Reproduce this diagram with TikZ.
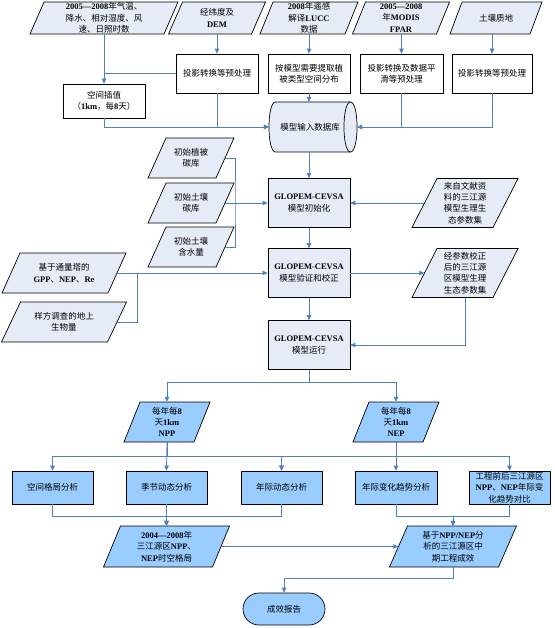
\documentclass[tikz,border=0pt]{standalone}
\usepackage{fontspec}
\setmainfont{Liberation Serif}
\newfontfamily\cjk{Noto Sans CJK SC}
\usetikzlibrary{arrows.meta,shapes.geometric,calc}
\newcommand\zh[1]{{\cjk\mdseries #1}}
\definecolor{lightfill}{HTML}{E6ECF7}
\definecolor{darkfill}{HTML}{99CCFF}
\definecolor{linkblue}{HTML}{4F81BD}
% #1 name, #2 cx, #3 cy, #4 width at mid height, #5 height, #6 slant shift, #7 style, #8 text
\newcommand\para[8]{%
  \filldraw[#7] ({#2-#4/2+#6/2},{#3-#5/2}) -- ({#2+#4/2+#6/2},{#3-#5/2})
     -- ({#2+#4/2-#6/2},{#3+#5/2}) -- ({#2-#4/2-#6/2},{#3+#5/2}) -- cycle;
  \node[txt,minimum width=#4pt,minimum height=#5pt] (#1) at (#2,#3) {#8};}
\tikzset{
  txt/.style={align=center,inner sep=0pt,font=\fontsize{8.5}{11.3}\selectfont\bfseries},
  lp/.style={draw=black,line width=0.7pt,fill=lightfill},
  dp/.style={draw=black,line width=0.7pt,fill=darkfill},
  lbox/.style={txt,draw=black,line width=0.7pt,fill=white},
  wbox/.style={txt,draw=black,line width=0.7pt,fill=lightfill},
  dbox/.style={txt,draw=black,line width=0.7pt,fill=darkfill},
  link/.style={draw=linkblue,line width=0.8pt},
  arr/.style={link,-{Triangle[length=5pt,width=4.5pt]}}
}
\begin{document}
\begin{tikzpicture}[x=1pt,y=-1pt]
\useasboundingbox[fill=white] (0,0) rectangle (554,628);
% top row inputs
\para{P1}{104}{18}{134}{32}{14}{lp}{2005—2008\zh{年气温、}\\\zh{降水、相对湿度、风}\\\zh{速、日照时数}}
\para{P2}{217}{18}{83}{32}{14}{lp}{\zh{经纬度及}\\DEM}
\para{P3}{309}{18}{85}{32}{13}{lp}{2008\zh{年遥感}\\\zh{解译}LUCC\\\zh{数据}}
\para{P4}{401}{18}{84}{32}{13}{lp}{2005—2008\\\zh{年}MODIS\\FPAR}
\para{P5}{496}{18}{80}{32}{12}{lp}{\zh{土壤质地}}
% preprocessing
\node[lbox,minimum width=82pt,minimum height=39pt] (B2) at (217,73.5) {\zh{投影转换等预处理}};
\node[lbox,minimum width=82pt,minimum height=39pt] (B3) at (309,73.5) {\zh{按模型需要提取植}\\\zh{被类型空间分布}};
\node[lbox,minimum width=83pt,minimum height=39pt] (B4) at (401.5,73.5) {\zh{投影转换及数据平}\\\zh{滑等预处理}};
\node[lbox,minimum width=80pt,minimum height=39pt] (B5) at (492,73.5) {\zh{投影转换等预处理}};
\node[lbox,minimum width=82pt,minimum height=34pt] (IP) at (104,101) {\zh{空间插值}\\\zh{（}1km\zh{，每}8\zh{天）}};
% database cylinder (horizontal axis)
\filldraw[lp] (275.5,102) -- (350.5,102) .. controls (359.2,102) and (359.2,152) .. (350.5,152)
   -- (275.5,152) .. controls (266.8,152) and (266.8,102) .. (275.5,102) -- cycle;
\draw[black,line width=0.7pt] (350.5,102) .. controls (341.8,102) and (341.8,152) .. (350.5,152);
\node[txt,minimum width=88pt,minimum height=50pt] (CY) at (313,127) {\zh{模型输入数据库}\hspace*{6pt}};
% model column
\node[wbox,minimum width=82pt,minimum height=49pt] (INI) at (309,203) {GLOPEM-CEVSA\\\zh{模型初始化}};
\node[wbox,minimum width=82pt,minimum height=49pt] (VER) at (309,273) {GLOPEM-CEVSA\\\zh{模型验证和校正}};
\node[wbox,minimum width=82pt,minimum height=49pt] (RUN) at (309,345) {GLOPEM-CEVSA\\\zh{模型运行}};
% left inputs
\para{L1}{191}{158}{68}{40}{18}{lp}{\zh{初始植被}\\\zh{碳库}}
\para{L2}{191}{203}{68}{40}{18}{lp}{\zh{初始土壤}\\\zh{碳库}}
\para{L3}{191}{247}{68}{40}{18}{lp}{\zh{初始土壤}\\\zh{含水量}}
\para{GP}{64}{273}{106}{40}{18}{lp}{\zh{基于通量塔的}\\GPP\zh{、}NEP\zh{、}Re}
\para{SM}{64}{322}{106}{40}{19}{lp}{\zh{样方调查的地上}\\\zh{生物量}}
% right inputs
\para{R1}{465}{203}{81}{49}{25}{lp}{\zh{来自文献资}\\\zh{料的三江源}\\\zh{模型生理生}\\\zh{态参数集}}
\para{R2}{465}{273}{81}{49}{25}{lp}{\zh{经参数校正}\\\zh{后的三江源}\\\zh{区模型生理}\\\zh{生态参数集}}
% outputs
\para{NPP}{167}{422}{70}{40}{16}{dp}{\zh{每年每}8\\\zh{天}1km\\NPP}
\para{NEP}{396}{422}{70}{40}{16}{dp}{\zh{每年每}8\\\zh{天}1km\\NEP}
\node[dbox,minimum width=81pt,minimum height=33pt] (A1) at (52.5,487.5) {\zh{空间格局分析}};
\node[dbox,minimum width=81pt,minimum height=33pt] (A2) at (166.5,487.5) {\zh{季节动态分析}};
\node[dbox,minimum width=81pt,minimum height=33pt] (A3) at (281.5,487.5) {\zh{年际动态分析}};
\node[dbox,minimum width=82pt,minimum height=33pt] (A4) at (396,487.5) {\zh{年际变化趋势分析}};
\node[dbox,minimum width=81pt,minimum height=33pt] (A5) at (509.5,487.5) {\zh{工程前后三江源区}\\NPP\zh{、}NEP\zh{年际变}\\\zh{化趋势对比}};
\para{S1}{166.5}{546.5}{109}{41}{17}{dp}{2004—2008\zh{年}\\\zh{三江源区}NPP\zh{、}\\NEP\zh{时空格局}}
\para{S2}{453}{546.5}{109}{41}{18}{dp}{\zh{基于}NPP/NEP\zh{分}\\\zh{析的三江源区中}\\\zh{期工程成效}}
\node[dbox,rounded corners=16pt,minimum width=82pt,minimum height=32pt] (REP) at (284,609) {\zh{成效报告}};
% junction coordinates
\coordinate (x5) at (492,0);
\coordinate (jL) at (235,203);
\coordinate (jG) at (137,273);
% connectors top
\draw[arr] (P1.south) -- (IP.north);
\draw[link] (B2.west) -- (B2.west -| IP.north);
\draw[arr] (P2.south) -- (B2.north);
\draw[arr] (P3.south) -- (B3.north);
\draw[arr] (P4.south -| B4.north) -- (B4.north);
\draw[arr] (P5.south -| x5) -- (B5.north -| x5);
\draw[arr] (IP.south) |- (CY.west);
\draw[arr] (B2.south) |- (CY.west);
\draw[arr] (B3.south) -- (B3.south |- CY.north);
\draw[arr] (B4.south) |- (CY.east);
\draw[arr] (B5.south -| x5) |- (CY.east);
\draw[arr] (INI.north |- CY.south) -- (INI.north);
% model column
\draw[arr] (INI.south) -- (VER.north);
\draw[arr] (VER.south) -- (RUN.north);
\draw[link] (L1.east) -| (jL) |- (L3.east);
\draw[arr] (L2.east) -- (INI.west);
\draw[arr] (R1.west) -- (INI.east);
\draw[arr] (GP.east) -- (VER.west);
\draw[link] (SM.east) -| (jG);
\draw[arr] (VER.east) -- (R2.west);
\draw[arr] (R2.south) |- (RUN.east);
% outputs
\draw[arr] (RUN.south) -- ++(0,13) -| (NPP.north);
\draw[arr] (RUN.south) -- ++(0,13) -| (NEP.north);
\draw[arr] (NPP.south) -- ++(0,14) -| (A1.north);
\draw[arr] (NPP.south) -- (A2.north);
\draw[arr] (NPP.south) -- ++(0,14) -| (A3.north);
\draw[arr] (NEP.south) -- ++(0,14) -| (A3.north);
\draw[arr] (NEP.south) -- (A4.north);
\draw[arr] (NEP.south) -- ++(0,14) -| (A5.north);
\draw[arr] (A1.south) -- ++(0,12) -| (S1.north);
\draw[arr] (A2.south) -- (S1.north);
\draw[arr] (A3.south) -- ++(0,12) -| (S1.north);
\draw[arr] (A4.south) -- ++(0,12) -| (S2.north);
\draw[arr] (A5.south) -- ++(0,12) -| (S2.north);
\draw[arr] (S1.east) -- (S2.west);
\draw[arr] (S2.south) -- ++(0,11) -| (REP.north);
\end{tikzpicture}
\end{document}
